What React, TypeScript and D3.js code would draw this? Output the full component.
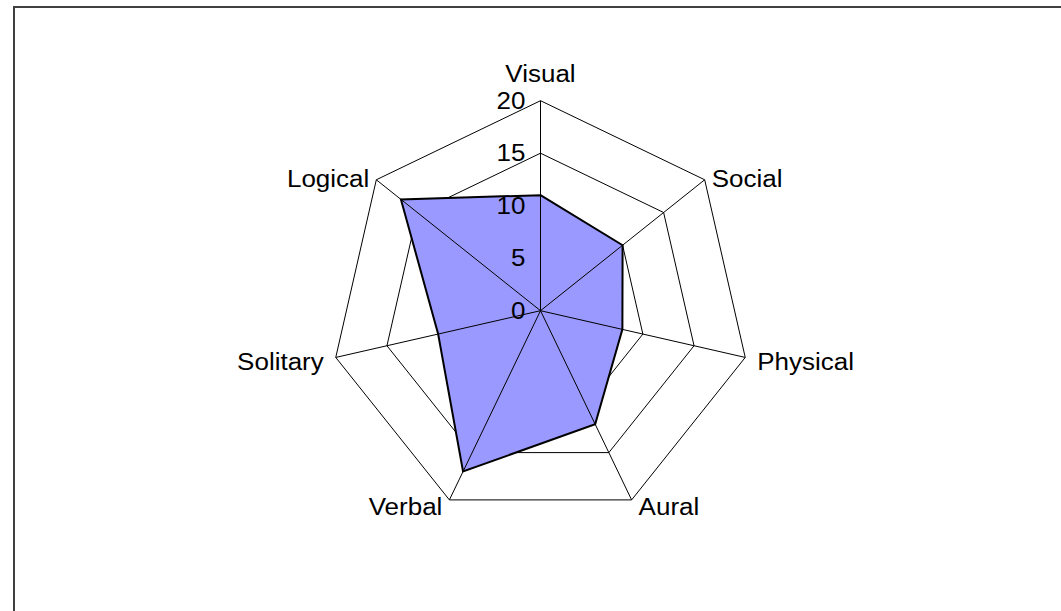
import React, { useEffect, useRef } from 'react';
import * as d3 from 'd3';

const categories = ['Visual', 'Social', 'Physical', 'Aural', 'Verbal', 'Solitary', 'Logical'];
const scores = [11, 10, 8, 12, 17, 10, 17];
const tickValues = [0, 5, 10, 15, 20];

const RadarChart: React.FC = () => {
  const svgRef = useRef<SVGSVGElement | null>(null);

  useEffect(() => {
    if (!svgRef.current) return;
    const svg = d3.select(svgRef.current);
    svg.selectAll('*').remove();

    const cx = 540.5;
    const cy = 310.7;
    const font = '"Liberation Sans", Arial, sans-serif';
    const fontSize = 23;
    const stretch = 'scale(1.13,1)';

    // frame
    svg.append('rect')
      .attr('x', 14).attr('y', 7)
      .attr('width', 1100).attr('height', 700)
      .attr('fill', 'white')
      .attr('stroke', '#404040')
      .attr('stroke-width', 2);

    const r = d3.scaleLinear().domain([0, 20]).range([0, 210]);
    const angle = d3.scalePoint<string>()
      .domain(categories)
      .range([0, (2 * Math.PI * (categories.length - 1)) / categories.length]);

    const pt = (cat: string, v: number): [number, number] => {
      const a = angle(cat)!;
      return [cx + r(v) * Math.sin(a), cy - r(v) * Math.cos(a)];
    };

    const g = svg.append('g');

    // rings
    tickValues.filter(t => t > 0).forEach(t => {
      g.append('polygon')
        .attr('points', categories.map(c => pt(c, t).join(',')).join(' '))
        .attr('fill', 'none')
        .attr('stroke', '#000')
        .attr('stroke-width', 1);
    });

    // data area
    g.append('polygon')
      .attr('points', categories.map((c, i) => pt(c, scores[i]).join(',')).join(' '))
      .attr('fill', '#9999ff')
      .attr('stroke', '#000')
      .attr('stroke-width', 2)
      .attr('stroke-linejoin', 'miter');

    // spokes on top
    categories.forEach(c => {
      const [x, y] = pt(c, 20);
      g.append('line')
        .attr('x1', cx).attr('y1', cy)
        .attr('x2', x).attr('y2', y)
        .attr('stroke', '#000')
        .attr('stroke-width', 1);
    });

    // value labels along Visual axis
    tickValues.forEach(t => {
      const [, y] = pt(categories[0], t);
      g.append('text')
        .attr('transform', `translate(${cx - 15},${y + 8}) ${stretch}`)
        .attr('text-anchor', 'end')
        .attr('font-family', font)
        .attr('font-size', fontSize)
        .attr('fill', '#000')
        .text(t);
    });

    // category labels
    categories.forEach(c => {
      const a = angle(c)!;
      const s = Math.sin(a);
      const co = Math.cos(a);
      const [vx, vy] = pt(c, 20);
      let x = vx;
      let y: number;
      let anchor = 'middle';
      if (Math.abs(s) < 0.01) {
        y = vy - 19;
      } else {
        const gap = Math.abs(s) > 0.9 ? 12 : 7;
        x = vx + Math.sign(s) * gap;
        anchor = s > 0 ? 'start' : 'end';
        y = vy + 7 + (co < 0 ? (co < -0.5 ? 8 : 6) : 0);
      }
      g.append('text')
        .attr('transform', `translate(${x},${y}) ${stretch}`)
        .attr('text-anchor', anchor)
        .attr('font-family', font)
        .attr('font-size', fontSize)
        .attr('fill', '#000')
        .text(c);
    });
  }, []);

  return (
    <svg
      ref={svgRef}
      width={1061}
      height={611}
      style={{ position: 'absolute', left: 0, top: 0, background: 'white' }}
    />
  );
};

export default function App() {
  return <RadarChart />;
}
